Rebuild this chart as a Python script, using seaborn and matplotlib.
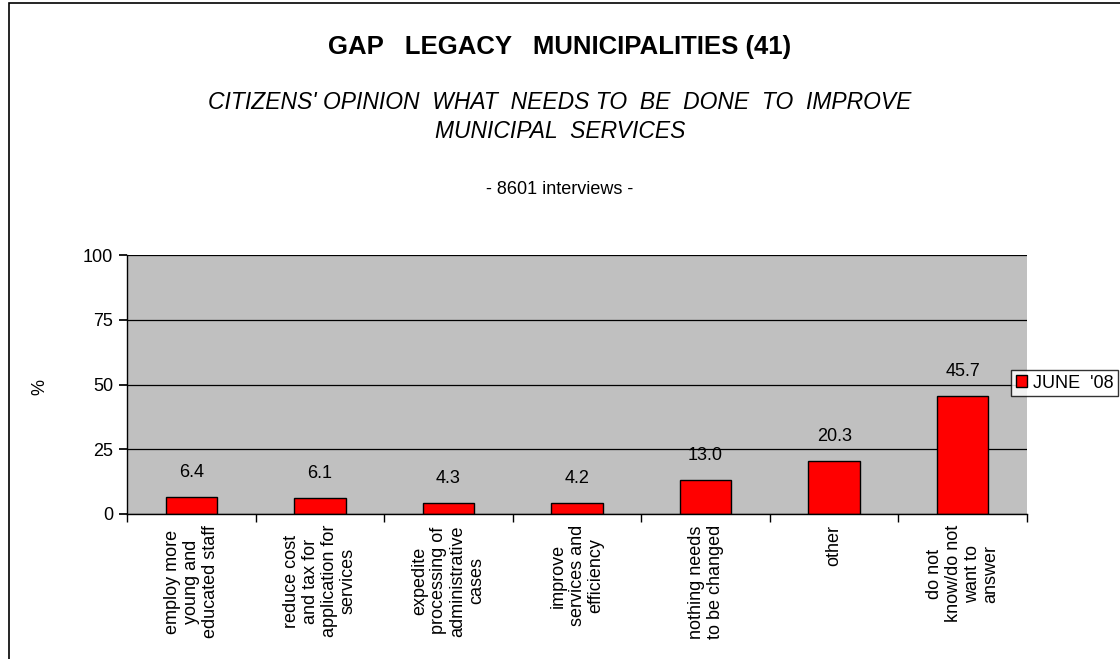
import numpy as np
import pandas as pd
import seaborn as sns
import matplotlib.pyplot as plt
from matplotlib.patches import Rectangle

categories = [
    "employ more\nyoung and\neducated staff",
    "reduce cost\nand tax for\napplication for\nservices",
    "expedite\nprocessing of\nadministrative\ncases",
    "improve\nservices and\nefficiency",
    "nothing needs\nto be changed",
    "other",
    "do not\nknow/do not\nwant to\nanswer",
]
values = [6.4, 6.1, 4.3, 4.2, 13.0, 20.3, 45.7]
series_name = "JUNE  '08"
yticks = [0, 25, 50, 75, 100]

df = pd.DataFrame({"cat": categories, "val": values})

sns.set_theme(style="white")
plt.rcParams["font.family"] = ["Liberation Sans", "DejaVu Sans"]
plt.rcParams["text.color"] = "black"
plt.rcParams["xtick.color"] = "black"
plt.rcParams["ytick.color"] = "black"
plt.rcParams["axes.labelcolor"] = "black"

fig = plt.figure(figsize=(11.2, 6.59), dpi=100)
ax = fig.add_axes([127 / 1120, 1 - 514 / 659, 900 / 1120, 259 / 659])
ax.set_facecolor("#C0C0C0")

sns.barplot(data=df, x="cat", y="val", color="#FF0000", width=0.4,
            edgecolor="black", linewidth=1, saturation=1, label=series_name, ax=ax)

ax.set_ylim(0, 100)
ax.set_xlim(-0.5, len(categories) - 0.5)
ax.set_yticks(yticks)
ax.set_yticklabels([str(t) for t in yticks], fontsize=13)
ax.yaxis.grid(True, color="black", linewidth=0.9)
ax.set_axisbelow(True)
ax.tick_params(axis="y", length=6, color="black", left=True, pad=4)

ax.set_xticks(range(len(categories)))
ax.set_xticklabels(categories, rotation=90, fontsize=13, ha="center", va="top",
                   multialignment="center", linespacing=1.15)
ax.tick_params(axis="x", which="major", length=0, pad=8)
ax.set_xticks(np.arange(-0.5, len(categories)), minor=True)
ax.tick_params(axis="x", which="minor", length=6, color="black", bottom=True)

for s in ["top", "right"]:
    ax.spines[s].set_visible(False)
for s in ["left", "bottom"]:
    ax.spines[s].set_color("black")
    ax.spines[s].set_linewidth(1)

ax.set_xlabel("")
ax.set_ylabel("")
fig.text(40 / 1120, 1 - 387 / 659, "%", rotation=90, ha="center", va="center",
         fontsize=13)

for i, v in enumerate(values):
    ax.text(i, v + 9.5, f"{v:.1f}", ha="center", va="center", fontsize=13)

leg = ax.legend(loc="center left", bbox_to_anchor=(1011 / 1120, 1 - 383 / 659),
                bbox_transform=fig.transFigure, fontsize=13, frameon=True,
                fancybox=False, handlelength=0.65, handleheight=0.65,
                handletextpad=0.3, borderpad=0.25, borderaxespad=0)
leg.get_frame().set_edgecolor("black")
leg.get_frame().set_linewidth(1)

fig.text(0.5, 1 - 47 / 659, "GAP   LEGACY   MUNICIPALITIES (41)", ha="center",
         va="center", fontsize=18.5, fontweight="bold")
fig.text(0.5, 1 - 117 / 659,
         "CITIZENS' OPINION  WHAT  NEEDS TO  BE  DONE  TO  IMPROVE\nMUNICIPAL  SERVICES",
         ha="center", va="center", fontsize=16.5, style="italic", linespacing=1.3)
fig.text(0.5, 1 - 189 / 659, "- 8601 interviews -", ha="center", va="center",
         fontsize=13)

fig.patches.append(Rectangle((9 / 1120, -0.05), 1.2, 1 - 3 / 659 + 0.05,
                             transform=fig.transFigure, fill=False,
                             edgecolor="black", linewidth=1.2))

fig.savefig("out.png", dpi=100)
